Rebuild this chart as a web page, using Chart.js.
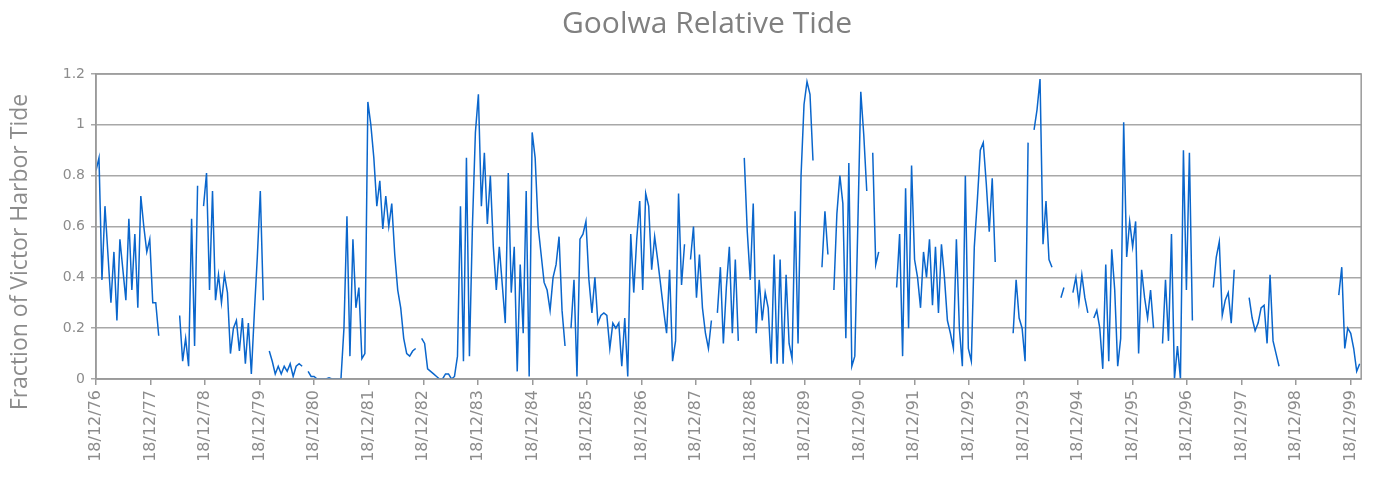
<!DOCTYPE html>
<html><head><meta charset="utf-8">
<script src="https://cdn.jsdelivr.net/npm/chart.js@4"></script>
<style>html,body{margin:0;padding:0;background:#fff}#wrap{width:1375px;height:477px;position:relative}</style>
</head><body><div id="wrap"><canvas id="c" width="1375" height="477"></canvas></div>
<script>
const chartTitle = 'Goolwa Relative Tide';
const yAxisTitle = 'Fraction of Victor Harbor Tide';
const startYear = 1976;            // first sample: 18/12/1976
const stepDays = 20;               // spacing between samples
const tickLabels = ['18/12/76','18/12/77','18/12/78','18/12/79','18/12/80','18/12/81','18/12/82','18/12/83',
  '18/12/84','18/12/85','18/12/86','18/12/87','18/12/88','18/12/89','18/12/90','18/12/91','18/12/92',
  '18/12/93','18/12/94','18/12/95','18/12/96','18/12/97','18/12/98','18/12/99'];
const yTicks = [0, 0.2, 0.4, 0.6, 0.8, 1, 1.2];
const tideValues = [
0.82,0.87,0.39,0.68,0.49,0.30,0.50,0.23,0.55,0.43,0.31,0.63,0.35,0.57,0.28,0.72,0.60,0.50,0.55,0.30,
0.30,0.17,null,0.12,null,null,null,null,0.25,0.07,0.16,0.05,0.63,0.13,0.76,null,0.68,0.81,0.35,0.74,
0.31,0.41,0.30,0.41,0.34,0.10,0.20,0.23,0.11,0.24,0.06,0.22,0.02,0.26,0.48,0.74,0.31,null,0.11,0.07,
0.02,0.05,0.02,0.05,0.03,0.06,0.01,0.05,0.06,0.05,null,0.03,0.01,0.01,0.00,0.00,0.00,0.00,0.005,0.00,
0.00,0.00,0.00,0.20,0.64,0.09,0.55,0.28,0.36,0.08,0.10,1.09,1.00,0.87,0.68,0.78,0.59,0.72,0.60,0.69,
0.49,0.35,0.28,0.16,0.10,0.09,0.11,0.12,null,0.16,0.14,0.04,0.03,0.02,0.01,0.00,0.00,0.02,0.02,0.00,
0.01,0.09,0.68,0.07,0.87,0.09,0.60,0.97,1.12,0.68,0.89,0.61,0.80,0.52,0.35,0.52,0.37,0.22,0.81,0.34,
0.52,0.03,0.45,0.18,0.74,0.01,0.97,0.87,0.60,0.49,0.38,0.35,0.27,0.40,0.45,0.56,0.27,0.13,null,0.20,
0.39,0.01,0.55,0.57,0.62,0.39,0.26,0.40,0.22,0.25,0.26,0.25,0.12,0.22,0.20,0.22,0.05,0.24,0.01,0.57,
0.34,0.55,0.70,0.35,0.73,0.68,0.43,0.56,0.47,0.37,0.27,0.18,0.43,0.07,0.15,0.73,0.37,0.53,null,0.47,
0.60,0.32,0.49,0.28,0.18,0.12,0.23,null,0.26,0.44,0.14,0.36,0.52,0.18,0.47,0.15,null,0.87,0.58,0.39,
0.69,0.18,0.39,0.23,0.34,0.28,0.06,0.49,0.06,0.47,0.06,0.41,0.14,0.08,0.66,0.14,0.80,1.08,1.17,1.12,
0.86,null,null,0.44,0.66,0.49,null,0.35,0.65,0.80,0.69,0.16,0.85,0.05,0.09,0.60,1.13,0.96,0.74,null,
0.89,0.45,0.50,null,null,null,null,null,0.36,0.57,0.09,0.75,0.20,0.84,0.47,0.40,0.28,0.50,0.40,0.55,
0.29,0.52,0.26,0.53,0.40,0.23,0.18,0.12,0.55,0.20,0.05,0.80,0.12,0.07,0.52,0.70,0.90,0.93,0.77,0.58,
0.79,0.46,null,null,null,null,null,0.18,0.39,0.24,0.20,0.07,0.93,null,0.98,1.06,1.18,0.53,0.70,0.47,
0.44,null,null,0.32,0.36,null,null,0.34,0.40,0.30,0.41,0.32,0.26,null,0.24,0.27,0.20,0.04,0.45,0.07,
0.51,0.35,0.05,0.16,1.01,0.48,0.62,0.52,0.62,0.10,0.43,0.32,0.24,0.35,0.20,null,null,0.14,0.39,0.15,
0.57,0.00,0.13,0.00,0.90,0.35,0.89,0.23,null,null,null,null,null,null,0.36,0.48,0.54,0.25,0.31,0.34,
0.22,0.43,null,null,null,null,0.32,0.24,0.19,0.22,0.28,0.29,0.14,0.41,0.15,0.10,0.05,null,null,null,
null,null,null,null,null,null,null,null,null,null,null,null,null,null,null,null,0.33,0.44,0.12,0.20,
0.18,0.12,0.03,0.06
];

const DAY = 86400000;
const t0 = Date.UTC(startYear, 11, 18);
const tickDays = tickLabels.map((_, k) => Math.round((Date.UTC(startYear + k, 11, 18) - t0) / DAY));
const points = tideValues.map((v, i) => ({ x: i * stepDays, y: v }));

const frame = {
  id: 'frame',
  afterDraw(chart) {
    const a = chart.chartArea, c = chart.ctx;
    c.save(); c.strokeStyle = '#9a9a9a'; c.lineWidth = 1.5;
    c.strokeRect(a.left, a.top, a.right - a.left, a.bottom - a.top);
    // y-axis title, centred as in the reference
    c.translate(20, 252); c.rotate(-Math.PI / 2);
    c.fillStyle = '#8c8c8c'; c.font = '23px "Open Sans"';
    c.textAlign = 'center'; c.textBaseline = 'middle';
    c.fillText(yAxisTitle, 0, 0);
    c.restore();
  }
};

new Chart(document.getElementById('c'), {
  type: 'line',
  data: { datasets: [{ data: points, borderColor: '#0a66cc', borderWidth: 1.5, pointRadius: 0, tension: 0, spanGaps: false }] },
  options: {
    responsive: false, animation: false, devicePixelRatio: 1,
    layout: { padding: { left: 48, right: 9, top: 0, bottom: 0 } },
    plugins: {
      legend: { display: false }, tooltip: { enabled: false },
      title: { display: true, text: chartTitle, color: '#808080', font: { family: 'Open Sans', size: 30, weight: 'normal' }, padding: { top: 6, bottom: 32 } }
    },
    scales: {
      x: {
        type: 'linear', min: 0, max: 8470,
        afterBuildTicks: s => { s.ticks = tickDays.map(v => ({ value: v })); },
        afterFit: s => { s.height = 98; },
        ticks: { autoSkip: false, minRotation: 90, maxRotation: 90, padding: 5, color: '#8c8c8c',
          font: { family: 'DejaVu Sans', size: 16 },
          callback: (v, i) => tickLabels[i] },
        grid: { drawOnChartArea: false, drawTicks: true, tickLength: 6, color: '#9a9a9a', lineWidth: 1.5 },
        border: { display: true, color: '#9a9a9a', width: 1.5 }
      },
      y: {
        min: 0, max: 1.2,
        afterBuildTicks: s => { s.ticks = yTicks.map(v => ({ value: v })); },
        afterFit: s => { s.width = 48; },
        ticks: { color: '#8c8c8c', padding: 6, font: { family: 'DejaVu Sans', size: 14 }, callback: v => String(Math.round(v * 10) / 10) },
        grid: { color: '#a8a8a8', lineWidth: 1.5, tickLength: 5 },
        border: { display: true, color: '#9a9a9a', width: 1.5 },
        title: { display: false, text: yAxisTitle }
      }
    }
  },
  plugins: [frame]
});
</script></body></html>
